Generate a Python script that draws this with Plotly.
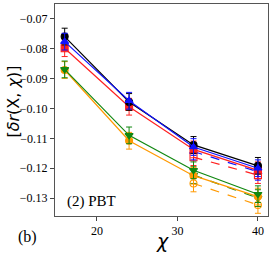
import plotly.graph_objects as go

chi = [16, 24, 32, 40]
chi_dashed = [32, 40]

black_solid = [-0.0759, -0.0978, -0.1122, -0.1192]
blue_solid = [-0.0776, -0.0974, -0.1129, -0.1200]
red_solid = [-0.0798, -0.0994, -0.1137, -0.1207]
green_solid = [-0.0869, -0.1090, -0.1207, -0.1287]
orange_solid = [-0.0871, -0.1108, -0.1225, -0.1295]

blue_dashed = [-0.1144, -0.1212]
red_dashed = [-0.1163, -0.1223]
green_dashed = [-0.1223, -0.1300]
orange_dashed = [-0.1251, -0.1323]

err_solid = [0.0028, 0.0028, 0.0028, 0.0028]
err_dashed = [0.0028, 0.0028]

y_ticks = [-0.07, -0.08, -0.09, -0.10, -0.11, -0.12, -0.13]
y_tick_labels = ["−0.07", "−0.08", "−0.09", "−0.10", "−0.11", "−0.12", "−0.13"]
x_ticks = [20, 30, 40]

fig = go.Figure()

def add(x, y, err, color, symbol, dash):
    fig.add_trace(go.Scatter(
        x=x, y=y, mode="lines+markers",
        line=dict(color=color, width=1.2, dash=dash),
        marker=dict(symbol=symbol, size=7, color=color,
                    line=dict(color=color, width=1.1)),
        error_y=dict(type="data", array=err, color=color, thickness=1, width=3),
        showlegend=False,
    ))

add(chi_dashed, orange_dashed, err_dashed, "#ff9900", "circle-open", "dash")
add(chi_dashed, green_dashed, err_dashed, "#118811", "triangle-down-open", "dash")
add(chi_dashed, red_dashed, err_dashed, "#ff2020", "square-open", "dash")
add(chi_dashed, blue_dashed, err_dashed, "#1010ff", "triangle-up-open", "dash")

add(chi, orange_solid, err_solid, "#ff9900", "circle", "solid")
add(chi, green_solid, err_solid, "#118811", "triangle-down", "solid")
add(chi, red_solid, err_solid, "#ff2020", "square", "solid")
add(chi, black_solid, err_solid, "#000000", "circle", "solid")
add(chi, blue_solid, err_solid, "#1010ff", "triangle-up", "solid")

fig.update_layout(
    width=273, height=253,
    margin=dict(l=55, r=5, t=4, b=37),
    plot_bgcolor="white", paper_bgcolor="white",
    font=dict(family="Liberation Serif", size=12, color="black"),
    xaxis=dict(range=[14.8, 41.25], tickvals=x_ticks, ticks="outside", ticklen=4,
               showgrid=False, zeroline=False, showline=True, linecolor="#555",
               linewidth=1, mirror=True, tickfont=dict(size=12)),
    yaxis=dict(range=[-0.136, -0.065], tickvals=y_ticks, ticktext=y_tick_labels,
               ticks="outside", ticklen=4, showgrid=False, zeroline=False,
               showline=True, linecolor="#555", linewidth=1, mirror=True,
               tickfont=dict(size=12)),
    annotations=[
        dict(text="[<i>δr</i>(X, <i>χ</i>)]", xref="paper", yref="paper",
             x=-0.197, y=0.54, textangle=-90, showarrow=False,
             font=dict(family="DejaVu Sans", size=16), xanchor="center", yanchor="middle"),
        dict(text="<i>χ</i>", xref="paper", yref="paper", x=0.507, y=-0.118,
             showarrow=False, font=dict(family="DejaVu Sans", size=19),
             xanchor="center", yanchor="middle"),
        dict(text="(2) PBT", xref="paper", yref="paper", x=0.045, y=0.07,
             showarrow=False, font=dict(family="Liberation Serif", size=15),
             xanchor="left", yanchor="middle"),
        dict(text="(b)", xref="paper", yref="paper", x=-0.13, y=-0.10,
             showarrow=False, font=dict(family="Liberation Serif", size=16),
             xanchor="center", yanchor="middle"),
    ],
)

fig.write_html("out.html", config={"displayModeBar": False},
               post_script="document.body.style.margin='0px';")
